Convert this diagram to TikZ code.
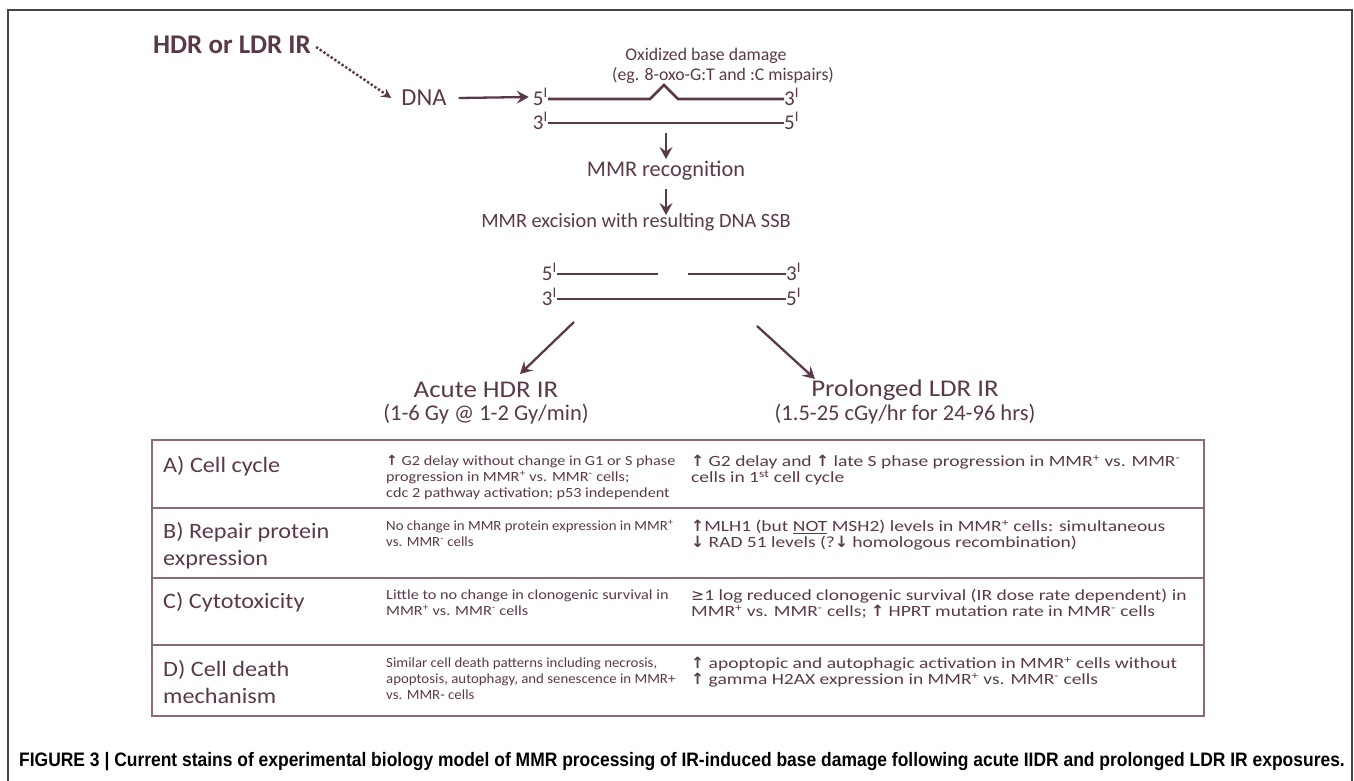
\documentclass[tikz,border=0pt]{standalone}
\usepackage{fontspec}
\setmainfont{Carlito}
\newfontfamily\symfont{DejaVu Sans}
\newfontfamily\capfont[FakeStretch=0.895]{Liberation Sans}
\newfontfamily\midfont[FakeStretch=1.16]{Carlito}
\newfontfamily\midnfont[FakeStretch=1.06]{Carlito}
\newfontfamily\rgtfont[FakeStretch=1.25]{Carlito}
\newfontfamily\hdfont[FakeStretch=1.1]{Carlito}
\newfontfamily\ttlfont[FakeStretch=1.12]{Carlito}
\usetikzlibrary{arrows.meta}
\definecolor{ink}{HTML}{5A3A4A}
\definecolor{rulec}{HTML}{8A6A7A}
\definecolor{framec}{HTML}{444444}
\newcommand{\uparr}{{\symfont\bfseries ↑}}
\newcommand{\dnarr}{{\symfont\bfseries ↓}}
\newcommand{\primk}{\textsuperscript{I}}
\newcommand{\mmrp}{\textsuperscript{+}}
\newcommand{\mmrn}{\textsuperscript{-}}
\begin{document}
\begin{tikzpicture}[x=1pt,y=-1pt,
  lbl/.style={text=ink, inner sep=0pt, font=\fontsize{21}{25}\selectfont},
  prm/.style={text=ink, inner sep=0pt, font=\fontsize{21}{25}\selectfont},
  strand/.style={draw=ink, line width=2.7pt},
  arr/.style={draw=ink, line width=2.3pt, -{Stealth[length=12pt,width=13pt,inset=4.5pt]}},
  darr/.style={draw=ink, line width=2.4pt, dotted, -{Stealth[length=10pt,width=10pt,inset=4pt]}},
  head/.style={text=ink, inner sep=0pt, anchor=north west, align=left, font=\hdfont\fontsize{22}{27.5}\selectfont},
  mid/.style={text=ink, inner sep=0pt, anchor=north west, align=left, font=\midfont\fontsize{14}{15.8}\selectfont},
  midn/.style={mid, font=\midnfont\fontsize{14}{15.8}\selectfont},
  rgt/.style={text=ink, inner sep=0pt, anchor=north west, align=left, font=\rgtfont\fontsize{15.6}{16}\selectfont},
  tline/.style={draw=rulec, line width=1.4pt}
]
\useasboundingbox (0,0) rectangle (1354,781);
\fill[white] (0,0) rectangle (1354,781);
\draw[framec, line width=1.2pt] (8,781) -- (8,10) -- (1352,10) -- (1352,781);

% source
\node[lbl, font=\bfseries\fontsize{27}{31}\selectfont, anchor=west] (src) at (153,45) {HDR or LDR IR};
\node[lbl, font=\fontsize{24.5}{28}\selectfont] (dna) at (424,98) {DNA};
\draw[darr] ([xshift=5pt,yshift=-2pt]src.east) -- ([xshift=-10pt]dna.west);

% damaged duplex
\node[lbl, font=\fontsize{17.8}{21}\selectfont] (oxa) at (706,56) {Oxidized base damage};
\node[lbl, font=\fontsize{17.8}{21}\selectfont] (oxb) at (723,76) {(eg. 8-oxo-G:T and :C mispairs)};
\node[prm, anchor=east] (t5) at (548,97) {5\primk};
\node[prm, anchor=west] (t3) at (784,97) {3\primk};
\node[prm, anchor=east] (u3) at (548,121) {3\primk};
\node[prm, anchor=west] (u5) at (784,121) {5\primk};
\coordinate (k1) at (650,99);
\coordinate (k2) at (664,85);
\coordinate (k3) at (678,99);
\coordinate (k0) at (0,123);
\draw[strand] (t5.east |- k1) -- (k1) -- (k2) -- (k3) -- (t3.west |- k3);
\draw[strand] (u3.east |- k0) -- (u5.west |- k0);
\draw[arr] ([xshift=12pt]dna.east) -- ([xshift=-4pt]t5.west);

% recognition / excision
\node[lbl, font=\fontsize{22.3}{26}\selectfont] (rec) at (666,171) {MMR recognition};
\node[lbl, font=\fontsize{20.3}{24}\selectfont] (exc) at (636,222) {MMR excision with resulting DNA SSB};
\coordinate (d1) at (666,133);
\coordinate (d2) at (666,159);
\coordinate (d3) at (666,189);
\coordinate (d4) at (666,215);
\draw[arr] (d1) -- (d2);
\draw[arr] (d3) -- (d4);

% nicked duplex
\node[prm, anchor=east] (s5) at (557,272) {5\primk};
\node[prm, anchor=west] (s3) at (786,272) {3\primk};
\node[prm, anchor=east] (v3) at (557,297) {3\primk};
\node[prm, anchor=west] (v5) at (786,297) {5\primk};
\coordinate (g1) at (658,274);
\coordinate (g2) at (688,274);
\coordinate (g0) at (0,299);
\draw[strand] (s5.east |- g1) -- (g1);
\draw[strand] (g2) -- (s3.west |- g2);
\draw[strand] (v3.east |- g0) -- (v5.west |- g0);

% branches
\node[lbl, font=\ttlfont\fontsize{24}{28}\selectfont] (ac1) at (486,390) {Acute HDR IR};
\node[lbl, font=\fontsize{22.5}{26}\selectfont] (ac2) at (486,414) {(1-6 Gy @ 1-2 Gy/min)};
\node[lbl, font=\ttlfont\fontsize{24}{28}\selectfont] (pl1) at (905,390) {Prolonged LDR IR};
\node[lbl, font=\fontsize{22.5}{26}\selectfont] (pl2) at (905,414) {(1.5-25 cGy/hr for 24-96 hrs)};
\coordinate (bl) at (574,322);
\coordinate (br) at (757,326);
\coordinate (bl2) at (520,374);
\coordinate (br2) at (815,379);
\draw[arr] (bl) -- (bl2);
\draw[arr] (br) -- (br2);

% table
\draw[tline] (152,440) rectangle (1204,716);
\draw[tline] (152,508) -- (1204,508);
\draw[tline] (152,578) -- (1204,578);
\draw[tline] (152,645) -- (1204,645);

\node[head] (ha) at (163,456) {A) Cell cycle};
\node[head] (hb) at (163,522) {B) Repair protein\\expression};
\node[head] (hc) at (163,592) {C) Cytotoxicity};
\node[head] (hd) at (163,660) {D) Cell death\\mechanism};

\node[mid] (ma) at (386,455) {\uparr{} G2 delay without change in G1 or S phase\\progression in MMR\mmrp{} vs. MMR\mmrn{} cells;\\cdc 2 pathway activation; p53 independent};
\node[midn] (mb) at (386,520) {No change in MMR protein expression in MMR\mmrp\\vs. MMR\mmrn{} cells};
\node[mid] (mc) at (386,590) {Little to no change in clonogenic survival in\\MMR\mmrp{} vs. MMR\mmrn{} cells};
\node[midn] (md) at (386,658) {Similar cell death patterns including necrosis,\\apoptosis, autophagy, and senescence in MMR+\\vs. MMR- cells};

\node[rgt] (ra) at (691,455) {\uparr{} G2 delay and \uparr{} late S phase progression in MMR\mmrp{} vs. MMR\mmrn\\cells in 1\textsuperscript{st} cell cycle};
\node[rgt] (rb) at (691,520) {\uparr{}MLH1 (but \underline{NOT} MSH2) levels in MMR\mmrp{} cells: simultaneous\\\dnarr{} RAD 51 levels (?\dnarr{} homologous recombination)};
\node[rgt] (rc) at (691,589) {{\symfont ≥}1 log reduced clonogenic survival (IR dose rate dependent) in\\MMR\mmrp{} vs. MMR\mmrn{} cells; \uparr{} HPRT mutation rate in MMR\mmrn{} cells};
\node[rgt] (rd) at (691,657) {\uparr{} apoptopic and autophagic activation in MMR\mmrp{} cells without\\\uparr{} gamma H2AX expression in MMR\mmrp{} vs. MMR\mmrn{} cells};

% caption
\node[inner sep=0pt, font=\capfont\bfseries\fontsize{19.5}{22}\selectfont, text=black] (cap) at (682,762) {FIGURE 3 | Current stains of experimental biology model of MMR processing of IR-induced base damage following acute IIDR and prolonged LDR IR exposures.};
\end{tikzpicture}
\end{document}
